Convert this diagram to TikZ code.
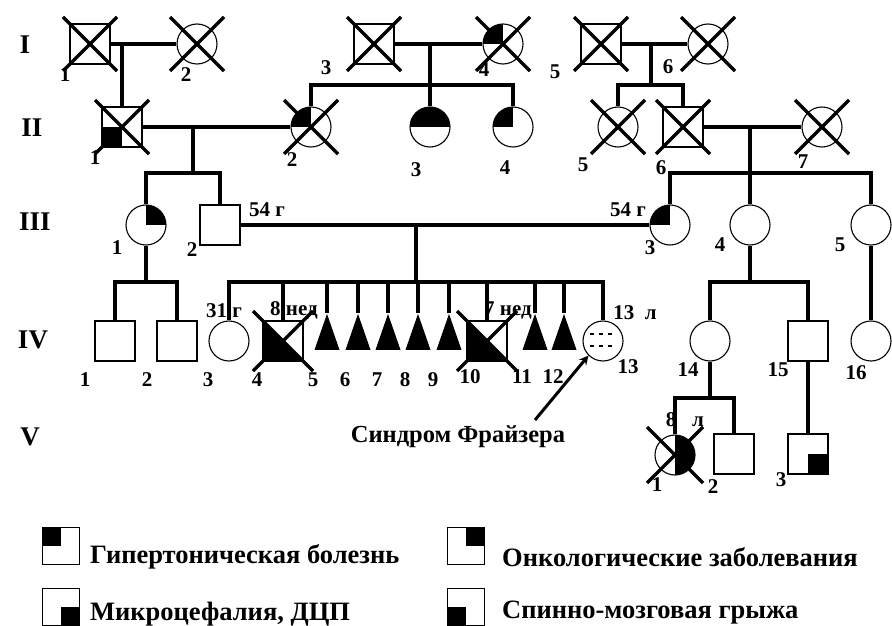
\documentclass[tikz,border=0pt]{standalone}
\usepackage{fontspec}
\setmainfont{Liberation Serif}
\usetikzlibrary{arrows,positioning,shapes.geometric}

\newcommand{\deceased}[2]{%
  \draw[xline] ([shift={(-#2,-#2)}]#1.center) -- ([shift={(#2,#2)}]#1.center);
  \draw[xline] ([shift={(#2,-#2)}]#1.center) -- ([shift={(-#2,#2)}]#1.center);}

\begin{document}
\begin{tikzpicture}[x=1pt, y=-1pt,
  male/.style={draw, rectangle, minimum size=40pt, inner sep=0pt, line width=1.5pt},
  female/.style={draw, circle, minimum size=40pt, inner sep=0pt, line width=1.1pt},
  miscarr/.style={isosceles triangle, shape border rotate=90, isosceles triangle stretches, fill, minimum height=36pt, minimum width=25pt, inner sep=0pt},
  hyp/.style={path picture={\fill (path picture bounding box.center) rectangle (path picture bounding box.north west);}},
  onc/.style={path picture={\fill (path picture bounding box.center) rectangle (path picture bounding box.north east);}},
  mic/.style={path picture={\fill (path picture bounding box.center) rectangle (path picture bounding box.south east);}},
  spin/.style={path picture={\fill (path picture bounding box.center) rectangle (path picture bounding box.south west);}},
  tophalf/.style={path picture={\fill (path picture bounding box.west) rectangle (path picture bounding box.north east);}},
  righthalf/.style={path picture={\fill (path picture bounding box.south) rectangle (path picture bounding box.north east);}},
  conn/.style={line width=3.6pt},
  xline/.style={line width=3.4pt},
  dashrow/.style={line width=1.2pt, dash pattern=on 4pt off 5pt},
  num/.style={font=\bfseries\fontsize{21}{21}\selectfont, inner sep=0pt},
  gen/.style={font=\bfseries\fontsize{27}{27}\selectfont, inner sep=0pt},
  note/.style={font=\bfseries\fontsize{21}{21}\selectfont, inner sep=0pt},
  legbox/.style={draw, rectangle, minimum size=37pt, inner sep=0pt, line width=1.6pt},
  legtext/.style={font=\bfseries\fontsize{26.5}{26.5}\selectfont, inner sep=0pt, anchor=base west},
  arrow/.style={->, >=stealth, line width=3pt}
]
\useasboundingbox (0,0) rectangle (892,626);

% generations
\node[gen] (gI) at (25,45) {I};
\node[gen] (gII) at (32,128) {II};
\node[gen] (gIII) at (35,222) {III};
\node[gen] (gIV) at (33,340) {IV};
\node[gen] (gV) at (30,437) {V};

% generation I
\node[male] (I1) at (90,44) {};
\node[female] (I2) at (197,44) {};
\node[male] (I3) at (374,44) {};
\node[female, hyp] (I4) at (503,44) {};
\node[male] (I5) at (601,44) {};
\node[female] (I6) at (708,44) {};

% generation II
\node[male, spin] (II1) at (122,127) {};
\node[female, hyp] (II2) at (311,127) {};
\node[female, tophalf] (II3) at (430,127) {};
\node[female, hyp] (II4) at (513,127) {};
\node[female] (II5) at (618,127) {};
\node[male] (II6) at (683,127) {};
\node[female] (II7) at (822,127) {};

% generation III
\node[female, onc] (III1) at (146,225) {};
\node[male] (III2) at (220,225) {};
\node[female, hyp] (III3) at (670,225) {};
\node[female] (III4) at (750,225) {};
\node[female] (III5) at (871,225) {};

% generation IV
\node[male] (IV1) at (115,341) {};
\node[male] (IV2) at (177,341) {};
\node[female] (IV3) at (229,341) {};
\node[male] (IV4) at (283,341) {};
\node[miscarr] (IV5) at (327,341) {};
\node[miscarr] (IV6) at (358,341) {};
\node[miscarr] (IV7) at (388,341) {};
\node[miscarr] (IV8) at (418,341) {};
\node[miscarr] (IV9) at (449,341) {};
\node[male] (IV10) at (487,341) {};
\node[miscarr] (IV11) at (535,341) {};
\node[miscarr] (IV12) at (564,341) {};
\node[female] (IV13) at (603,341) {};
\node[female] (IV14) at (710,341) {};
\node[male] (IV15) at (808,341) {};
\node[female] (IV16) at (871,341) {};

% generation V
\node[female, righthalf] (V1) at (675,455) {};
\node[male] (V2) at (734,454) {};
\node[male, mic] (V3) at (808,454) {};

% marriages and sibships
\coordinate (mA) at (122,44);
\coordinate (mB) at (430,44);
\coordinate (sB) at (430,85);
\coordinate (mC) at (651,44);
\coordinate (sC) at (651,85);
\coordinate (mD) at (193,127);
\coordinate (sD) at (193,173);
\coordinate (mE) at (750,127);
\coordinate (sE) at (750,173);
\coordinate (mF) at (416,225);
\coordinate (sF) at (416,282);
\coordinate (sG) at (146,282);
\coordinate (sH) at (750,282);
\coordinate (sI) at (710,398);

\draw[conn] (I1) -- (I2);
\draw[conn] (mA) -- (II1);
\draw[conn] (I3) -- (I4);
\draw[conn] (mB) -- (II3);
\draw[conn] (II2) |- (sB) -| (II4);
\draw[conn] (I5) -- (I6);
\draw[conn] (mC) -- (sC);
\draw[conn] (II5) |- (sC) -| (II6);
\draw[conn] (II1) -- (II2);
\draw[conn] (mD) -- (sD);
\draw[conn] (III1) |- (sD) -| (III2);
\draw[conn] (II6) -- (II7);
\draw[conn] (mE) -- (III4);
\draw[conn] (III3) |- (sE) -| (III5);
\draw[conn] (III2) -- (III3);
\draw[conn] (mF) -- (sF);
\draw[conn] (IV3) |- (sF) -| (IV13);
\foreach \n in {4,...,12}
  \draw[conn] (IV\n |- sF) -- (IV\n);
\draw[conn] (III1) -- (sG);
\draw[conn] (IV1) |- (sG) -| (IV2);
\draw[conn] (III4) -- (sH);
\draw[conn] (IV14) |- (sH) -| (IV15);
\draw[conn] (III5) -- (IV16);
\draw[conn] (IV14) -- (sI);
\draw[conn] (V1) |- (sI) -| (V2);
\draw[conn] (IV15) -- (V3);

% early losses
\fill (IV4.north west) -- (IV4.center) -- (IV4.south east) -- (IV4.south west) -- cycle;
\fill (IV10.north west) -- (IV10.center) -- (IV10.south east) -- (IV10.south west) -- cycle;

% pattern in IV-13
\draw[dashrow] ([shift={(-13,-7)}]IV13.center) -- ([shift={(13,-7)}]IV13.center);
\draw[dashrow] ([shift={(-13,5)}]IV13.center) -- ([shift={(13,5)}]IV13.center);

% deceased
\deceased{I1}{27}
\deceased{I2}{27}
\deceased{I3}{27}
\deceased{I4}{27}
\deceased{I5}{27}
\deceased{I6}{27}
\deceased{II1}{27}
\deceased{II2}{27}
\deceased{II5}{27}
\deceased{II6}{27}
\deceased{II7}{27}
\deceased{IV4}{30}
\deceased{IV10}{30}
\deceased{V1}{28}

% numbers
\node[num] (nI1) at (65,75) {1};
\node[num] (nI2) at (186,75) {2};
\node[num] (nI3) at (326,68) {3};
\node[num] (nI4) at (484,70) {4};
\node[num] (nI5) at (555,72) {5};
\node[num] (nI6) at (668,67) {6};
\node[num] (nII1) at (95,158) {1};
\node[num] (nII2) at (292,160) {2};
\node[num] (nII3) at (416,170) {3};
\node[num] (nII4) at (505,168) {4};
\node[num] (nII5) at (583,165) {5};
\node[num] (nII6) at (661,168) {6};
\node[num] (nII7) at (803,162) {7};
\node[num] (nIII1) at (117,248) {1};
\node[num] (nIII2) at (192,250) {2};
\node[num] (nIII3) at (650,248) {3};
\node[num] (nIII4) at (720,245) {4};
\node[num] (nIII5) at (840,245) {5};
\node[num] (nIV1) at (85,380) {1};
\node[num] (nIV2) at (147,380) {2};
\node[num] (nIV3) at (208,380) {3};
\node[num] (nIV4) at (257,380) {4};
\node[num] (nIV5) at (313,380) {5};
\node[num] (nIV6) at (345,380) {6};
\node[num] (nIV7) at (377,380) {7};
\node[num] (nIV8) at (405,380) {8};
\node[num] (nIV9) at (433,380) {9};
\node[num] (nIV10) at (470,377) {10};
\node[num] (nIV11) at (522,377) {11};
\node[num] (nIV12) at (553,377) {12};
\node[num] (nIV13) at (628,367) {13};
\node[num] (nIV14) at (688,370) {14};
\node[num] (nIV15) at (778,370) {15};
\node[num] (nIV16) at (856,373) {16};
\node[num] (nV1) at (657,485) {1};
\node[num] (nV2) at (713,487) {2};
\node[num] (nV3) at (781,480) {3};

% ages
\node[note] (a1) at (267,210) {54 г};
\node[note] (a2) at (628,210) {54 г};
\node[note] (a3) at (224,311) {31 г};
\node[note] (a4) at (294,310) {8 нед};
\node[note] (a5) at (508,310) {7 нед};
\node[note] (a6) at (635,313) {13\ \ л};
\node[note] (a7) at (685,420) {8\ \ \ л};

% diagnosis pointer
\node[note, font=\bfseries\fontsize{24.5}{24.5}\selectfont] (fraz) at (458,437) {Синдром Фрайзера};
\coordinate (arrS) at (535,420);
\draw[arrow] (arrS) -- (IV13.south west);

% legend
\node[legbox, hyp] (k1) at (61,546) {};
\node[legtext] (t1) at (90,563) {Гипертоническая болезнь};
\node[legbox, mic] (k2) at (61,607) {};
\node[legtext] (t2) at (90,620) {Микроцефалия, ДЦП};
\node[legbox, onc] (k3) at (466,546) {};
\node[legtext] (t3) at (502,566) {Онкологические заболевания};
\node[legbox, spin] (k4) at (466,607) {};
\node[legtext] (t4) at (502,618) {Спинно-мозговая грыжа};
\end{tikzpicture}
\end{document}
